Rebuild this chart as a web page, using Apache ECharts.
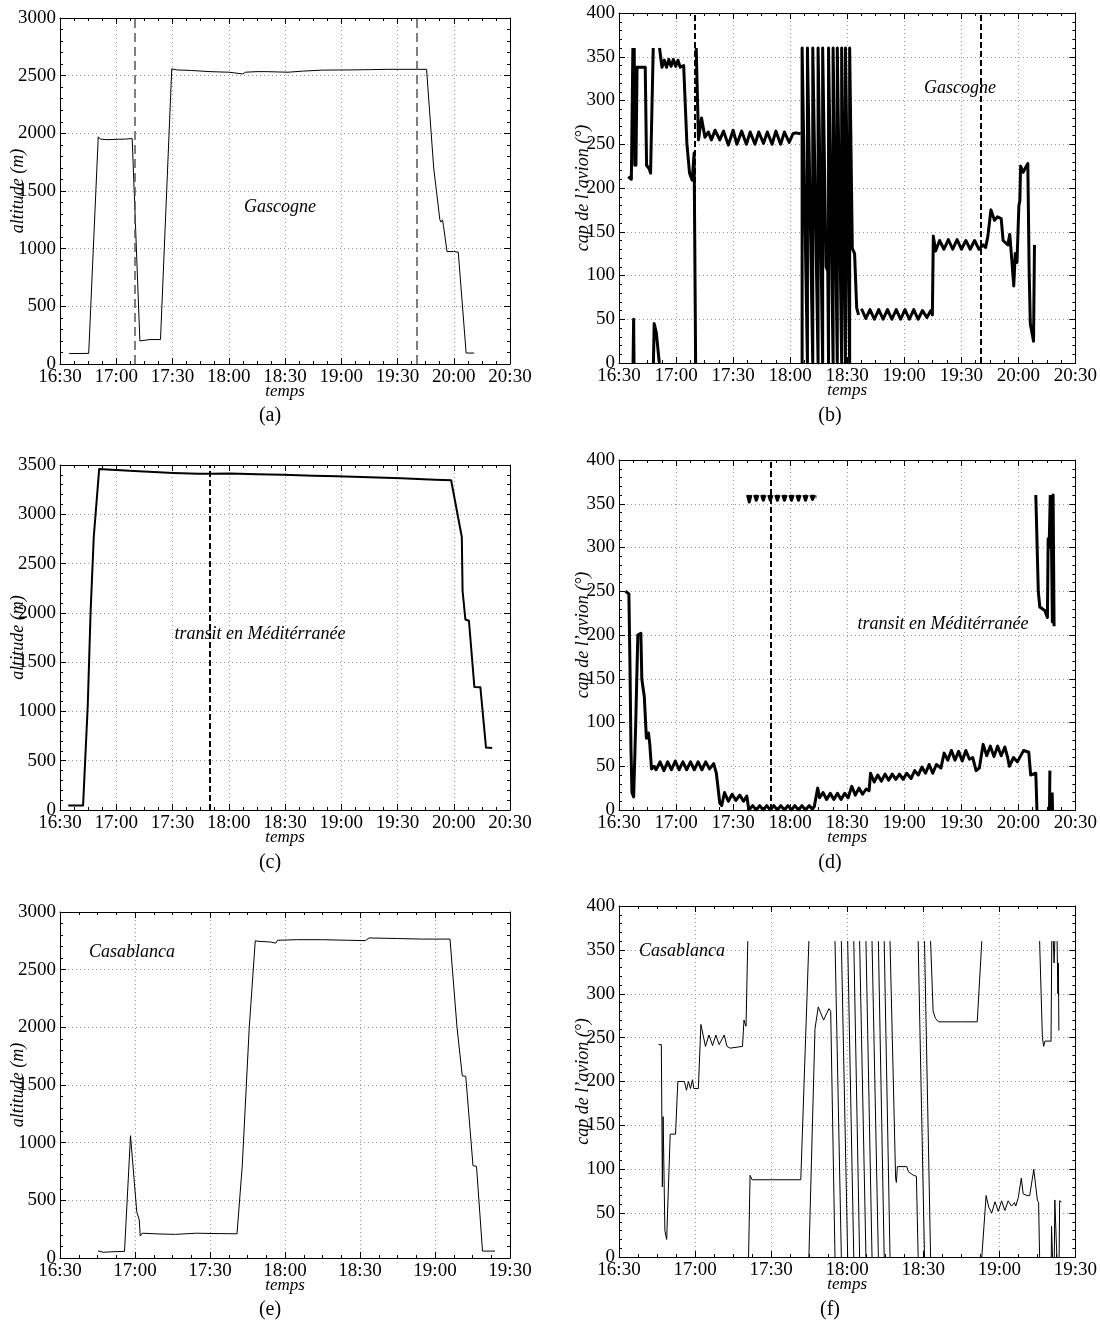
<!DOCTYPE html>
<html><head><meta charset="utf-8">
<script src="https://cdn.jsdelivr.net/npm/echarts@6/dist/echarts.min.js"></script>
<style>html,body{margin:0;padding:0;background:#fff}#c{width:1100px;height:1334px}</style>
</head><body><div id="c"></div>
<script>
// time in minutes after 16:30
// (a) altitude, Gascogne
const altA = [[4.9,90],[15.3,92],[20.4,1970],[21.5,1950],[25,1945],[30,1948],[35,1950],[38.5,1955],[42.6,200],[43.2,215],[48,212],[53.6,212],[59.6,2560],[62,2550],[70,2545],[80,2535],[90,2530],[97.4,2515],[99,2530],[105,2535],[110,2535],[121.6,2530],[130,2540],[140,2548],[155.8,2550],[165,2552],[175,2555],[185,2555],[195.5,2555],[199.3,1700],[202.6,1250],[203.2,1230],[204.0,1250],[204.5,1200],[206.4,975],[210,975],[212.4,970],[216.6,95],[220.9,95]];
// (b) heading, Gascogne
const capB1 = [[4.9,213],[6.5,210],[7.3,360],null,[7.4,0],[7.7,50],[7.9,0],null,[8.0,360],[8.3,226],[8.6,330],[8.9,226],[9.5,338],[13.8,338],[14.5,226],[15.9,222],[16.6,217],[18.0,360],null,[18.1,0],[18.5,45],[19.6,35],[21.2,0],null,[21.3,360],[22.6,338],[23.8,346],[25.0,338],[26.2,347],[27.4,339],[28.6,347],[29.8,339],[31.0,346],[32.2,338],[34.0,340],[35.7,251],[37.1,217],[38.5,209],[39.5,240],[40.3,0],null,[40.6,360],[41.8,255],[43.4,280],[45.2,258],[47.0,264],[48.6,255],[50.5,266],[53,255],[55,265],[57.5,249],[60,266],[62,250],[64.5,265],[67,250],[69,264],[71.5,250],[73.5,264],[76,251],[78,264],[80.5,250],[82.5,265],[85,250],[87,264],[89.5,252],[91.5,262],[93,263],[95.4,262]];
const capB2 = [[96.3,0],[96.3,360],[99.1,0],[99.1,360],[101.9,0],[101.9,360],[104.7,0],[104.7,360],[107.1,0],[107.1,360],[108.9,110],[109.8,105],[110.2,0],[110.2,360],[112.6,0],[112.6,360],[114.8,0],[114.8,360],[117.1,0],[117.1,360],[119.1,0],[119.1,360],[121.3,0],[121.3,360],[122.7,131],[123.9,125],[125.0,63],[126,55]];
const capB3 = [[127.5,62],[129.8,51],[132,61],[134.3,50],[136.6,61],[138.9,50],[141.2,61],[143.5,50],[145.8,61],[148.1,50],[150.4,61],[152.7,50],[155,61],[157.3,50],[159.6,60],[161.9,52],[164,60],[164.8,55],[165.3,145],[166.5,128],[168.6,140],[170.9,130],[173.2,141],[175.5,130],[177.8,141],[180.1,130],[182.4,140],[184.7,130],[187,140],[189.3,130],[191.5,135],[192.8,132],[194,145],[195.6,175],[197.5,163],[199,167],[201,165],[202,140],[204.5,135],[205.5,147],[206.5,120],[207.6,88],[208.4,125],[209.3,115],[210.3,180],[210.8,185],[211.2,225],[212.5,218],[215,228],[215.7,105],[216.3,45],[217.3,43],[218,25],[218.5,135]];
// (c) altitude, transit
const altC = [[4.4,45],[12.3,45],[14.8,1060],[16.3,2000],[18.0,2770],[20.9,3460],[25,3455],[30,3450],[39.5,3440],[50,3430],[60.4,3420],[73.7,3410],[80,3412],[90.8,3415],[105,3405],[119,3400],[135,3390],[147.8,3385],[165,3375],[182,3365],[200,3350],[208.6,3345],[214.3,2770],[214.7,2224],[216.2,1933],[218.1,1920],[221,1249],[224.2,1245],[227.2,633],[230.5,630]];
// (d) heading, transit
const capD1 = [[3.4,250],[5.2,247],[5.8,160],[6.3,70],[6.8,20],[7.7,15],[8.3,60],[8.8,100],[9.9,200],[11.5,202],[12.0,150],[12.6,140],[13.3,130],[14.4,82],[15.5,88],[16.2,75],[17.1,47],[18.5,50],[19.5,46],[21.6,55],[23.6,45],[25.6,55],[27.6,46],[29.6,56],[31.6,46],[33.6,55],[35.6,46],[37.6,55],[39.6,46],[41.6,55],[43.6,46],[45.6,55],[47.6,47],[49.8,53],[51.2,42],[53.0,8],[54,5],[55.5,20],[57.5,10],[59.5,18],[61.5,11],[63.5,17],[65.5,10],[67.2,16],[68.3,0],[70.3,5],[72.2,0],[74,5],[75.9,0],[77.7,5],[79.6,0],[81.4,5],[83.3,0],[85.1,5],[87,0],[88.8,5],[90.7,0],[92.5,5],[94.4,0],[96.2,5],[98.1,0],[100,5],[101.7,1],[102.7,4],[104.5,25],[105.5,14],[107.3,20],[109.2,12],[111.1,19],[113,12],[114.9,19],[116.8,12],[118.7,19],[120.5,14],[122.4,27],[124.3,17],[126.2,25],[128.1,18],[130,24],[131.5,22],[132.3,42],[134.2,32],[136.1,40],[138,33],[139.9,41],[141.8,34],[143.7,41],[145.6,35],[147.5,41],[149.4,35],[151.3,42],[153.6,36],[155.5,45],[157.4,40],[159.3,49],[161.2,42],[163.1,52],[165,42],[166.9,52],[169.3,48],[171,65],[172.9,57],[174.8,68],[176.7,57],[178.6,67],[180.5,56],[182.4,68],[184.3,58],[186,60],[187.8,45],[189.5,48],[191.5,75],[193.4,62],[195.3,73],[197.2,61],[199.1,73],[201,62],[202.9,72],[204.4,60],[205.3,50],[207.5,60],[209.5,55],[211.5,63],[212.8,68],[215.5,66],[216.5,40],[219.2,42],[219.8,0]];
const capD2 = [[67.6,360],[68.5,352],[69.4,360],null,[71.3,360],[72.2,354],[73.1,360],null,[75.0,360],[75.9,354],[76.8,360],null,[78.7,360],[79.6,354],[80.5,360],null,[82.4,360],[83.3,354],[84.2,360],null,[86.1,360],[87.0,354],[87.9,360],null,[89.8,360],[90.7,354],[91.6,360],null,[93.5,360],[94.4,354],[95.3,360],null,[97.2,360],[98.1,354],[99.0,360],null,[100.9,360],[101.8,355],[102.7,360],null,[103.4,358],[103.8,358]];
const capD3 = [[219.2,360],[220.5,250],[221.3,232],[223.9,228],[225.3,220],[225.7,310],[226.2,300],[226.8,360],null,[227.2,360],[227.9,215],[228.3,360],[228.8,210],null,[226.4,0],[226.6,45],null,[227.8,20],[228,0]];
// (e) altitude, Casablanca
const altE = [[15.2,61],[17.3,50],[22,55],[25.8,57],[28.2,1060],[30.7,400],[31.7,330],[32.1,190],[32.9,215],[40,208],[46.2,205],[54.6,215],[62,212],[70.8,210],[72.9,800],[75.7,2000],[78.1,2750],[80,2745],[84.2,2740],[86.3,2730],[87,2755],[95,2760],[105,2760],[115,2755],[122.2,2752],[123.6,2775],[135,2770],[145,2765],[156,2765],[158.8,2000],[160.9,1580],[162.3,1575],[165.2,800],[166.6,795],[169,60],[174,60]];
// (f) heading, Casablanca
const capF1 = [[15.6,242],[16.7,242],[17.1,80],[17.4,160],[18.1,30],[18.8,20],[19.5,18],[20.2,140],[22.3,140],[22.6,138],[23.2,200],[25.8,200],[26.6,190],[27.4,200],[28.2,192],[29,202],[29.5,192],[31.3,192],[32.3,265],[34.1,240],[35.5,253],[36.9,241],[38.2,253],[39.5,242],[41.5,253],[42.6,240],[43.8,238],[48.7,240],[49.3,270],[50.1,263],[50.8,360],null,[51.1,0],[51.7,93],[52.5,88],[60,88],[71.7,88],[74.9,360],null,[74.9,0],[77.3,260],[78.6,285],[80.7,270],[82.8,283],[83.5,280],[85.2,0]];
const capF2 = [[85.2,360],[87.7,0],null,[87.7,360],[90.2,0],null,[90.2,360],[92.6,0],null,[92.6,360],[94.9,0],null,[94.9,360],[97.4,0],null,[97.4,360],[99.8,0],null,[99.8,360],[102.3,0],null,[102.3,360],[104.6,0],null,[104.6,360],[106.9,0],null,[106.9,360],[109.1,90],[109.4,85],[109.8,103],[113.5,103],[114.2,97],[116.2,93],[117.3,92],[118.0,0],null,[118.0,360],[120.5,0],null,[120.5,360],[122.9,0],null,[122.9,360],[123.9,280],[124.8,272],[126,268],[135,268],[141.3,268],[143.1,360]];
const capF3 = [[143.1,0],[144.8,70],[145.8,57],[147,50],[148.3,63],[149.6,52],[150.9,64],[152.2,53],[153.5,64],[154.8,58],[156,62],[156.5,58],[157.5,68],[158.7,90],[159.4,72],[161,70],[162,70],[163.6,100],[164.3,102],[165,65],[165.5,62],[165.9,0],null,[165.9,360],[167,250],[167.5,240],[168,246],[170.4,246],[170.7,360],null,[171.3,360],[171.6,335],[171.9,360],null,[172.8,360],[173.1,300],[173.3,335],[173.5,258],null,[170.5,0],[170.6,35],[171.0,0],null,[171.7,0],[171.9,65],[172.5,65],[172.7,0],null,[173.6,0],[173.8,64],[174.5,63]];
// vertical reference times (dashed)
const dashA = [40,190], dashB = [40,190], dashC = [80], dashD = [80];

const F = 'Liberation Serif';
const join = (...segs) => segs.reduce((acc, s, i) => i ? acc.concat([null], s) : acc.concat(s), []).map(p => p === null ? ['-', '-'] : p);
const fmtTime = v => { const m = 16*60+30+v; const h = Math.floor(m/60), mm = m%60; return h + ':' + (mm < 10 ? '0' : '') + mm; };

const panels = [
  {grid:{left:60,top:18,width:450,height:346}, xMax:240, yMax:3000, yInt:500, yName:'altitude (m)', nameGap:33, data:join(altA), w:1, vl:dashA, vs:{color:'#555',width:1.5,type:[9,5]}, label:{text:'Gascogne',x:280,y:207}, cap:{text:'(a)',x:270,y:416}},
  {grid:{left:619,top:13,width:457,height:350}, xMax:240, yMax:400, yInt:50, yName:'cap de l\u2019avion (°)', nameGap:27, data:join(capB1,capB2,capB3), w:3, vl:dashB, vs:{color:'#000',width:2,type:[6,3]}, label:{text:'Gascogne',x:960,y:88}, cap:{text:'(b)',x:830,y:416}},
  {grid:{left:60,top:465,width:450,height:345}, xMax:240, yMax:3500, yInt:500, yName:'altitude (m)', nameGap:33, data:join(altC), w:2, vl:dashC, vs:{color:'#000',width:2,type:[6,3]}, label:{text:'transit en Méditérranée',x:260,y:634}, cap:{text:'(c)',x:270,y:863}},
  {grid:{left:619,top:460,width:457,height:350}, xMax:240, yMax:400, yInt:50, yName:'cap de l\u2019avion (°)', nameGap:27, data:join(capD1,capD2,capD3), w:3, vl:dashD, vs:{color:'#000',width:2,type:[6,3]}, label:{text:'transit en Méditérranée',x:943,y:624}, cap:{text:'(d)',x:830,y:863}},
  {grid:{left:60,top:912,width:450,height:346}, xMax:180, yMax:3000, yInt:500, yName:'altitude (m)', nameGap:33, data:join(altE), w:1, vl:[], label:{text:'Casablanca',x:132,y:952}, cap:{text:'(e)',x:270,y:1310}},
  {grid:{left:619,top:906,width:457,height:351}, xMax:180, yMax:400, yInt:50, yName:'cap de l\u2019avion (°)', nameGap:27, data:join(capF1,capF2,capF3), w:1, vl:[], label:{text:'Casablanca',x:682,y:951}, cap:{text:'(f)',x:830,y:1310}}
];

const black = {color:'#000'};
const grids = [], xAxes = [], yAxes = [], series = [], graphics = [];
panels.forEach((p, i) => {
  grids.push(Object.assign({containLabel:false}, p.grid));
  const xBase = {gridIndex:i, type:'value', min:0, max:p.xMax, interval:30,
    axisLine:{show:true, onZero:false, lineStyle:{color:'#000', width:1}},
    axisTick:{show:true, inside:true, length:6, lineStyle:black},
    minorTick:{show:true, splitNumber:4, length:3, lineStyle:black}};
  xAxes.push(Object.assign({}, xBase, {position:'bottom',
    axisLabel:{formatter:fmtTime, color:'#000', fontFamily:F, fontSize:19, margin:4},
    splitLine:{show:true, lineStyle:{color:'#9a9a9a', width:1, type:[1,3]}},
    name:'temps', nameLocation:'middle', nameGap:19, nameMoveOverlap:false,
    nameTextStyle:{fontStyle:'italic', fontFamily:F, fontSize:17, color:'#000'}}));
  xAxes.push(Object.assign({}, xBase, {position:'top', axisLabel:{show:false}, splitLine:{show:false}}));
  const yBase = {gridIndex:i, type:'value', min:0, max:p.yMax, interval:p.yInt,
    axisLine:{show:true, onZero:false, lineStyle:{color:'#000', width:1}},
    axisTick:{show:true, inside:true, length:6, lineStyle:black},
    minorTick:{show:true, splitNumber:5, length:3, lineStyle:black}};
  yAxes.push(Object.assign({}, yBase, {position:'left',
    axisLabel:{color:'#000', fontFamily:F, fontSize:19, margin:4, formatter:v => String(v)},
    splitLine:{show:true, lineStyle:{color:'#9a9a9a', width:1, type:[1,3]}},
    name:p.yName, nameLocation:'middle', nameGap:p.nameGap, nameRotate:90, nameMoveOverlap:false,
    nameTextStyle:{fontStyle:'italic', fontFamily:F, fontSize:18, color:'#000'}}));
  yAxes.push(Object.assign({}, yBase, {position:'right', axisLabel:{show:false}, splitLine:{show:false}}));
  const s = {type:'line', xAxisIndex:2*i, yAxisIndex:2*i, data:p.data, showSymbol:false, symbol:'none',
    connectNulls:false, animation:false, lineStyle:{color:'#000', width:p.w, join:'round'}, z:3};
  if (p.vl.length) {
    s.markLine = {silent:true, symbol:['none','none'], label:{show:false}, animation:false,
      lineStyle:{color:p.vs.color, width:p.vs.width, type:p.vs.type},
      data:p.vl.map(v => ({xAxis:v}))};
  }
  series.push(s);
  graphics.push({type:'text', x:p.label.x, y:p.label.y, style:{text:p.label.text, font:'italic 18px "' + F + '"', fill:'#000', textAlign:'center', textVerticalAlign:'middle'}, z:10});
  graphics.push({type:'text', x:p.cap.x, y:p.cap.y, style:{text:p.cap.text, font:'20px "' + F + '"', fill:'#000', textAlign:'center', textVerticalAlign:'middle'}, z:10});
});

const chart = echarts.init(document.getElementById('c'), null, {renderer:'canvas'});
chart.setOption({backgroundColor:'#fff', animation:false, grid:grids, xAxis:xAxes, yAxis:yAxes, series:series, graphic:graphics});
</script></body></html>
